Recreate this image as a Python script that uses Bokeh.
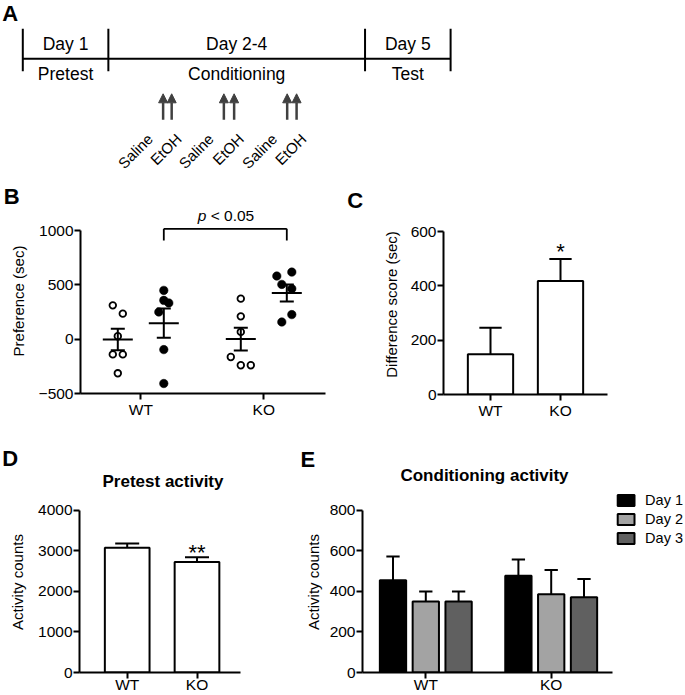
import math
import numpy as np
from bokeh.plotting import figure
from bokeh.models import (Range1d, FixedTicker, Label, Arrow, NormalHead,
                          ColumnDataSource, Legend, LegendItem)
from bokeh.layouts import column, row
from bokeh.embed import file_html
from bokeh.resources import INLINE
from bokeh.core.properties import value

FONT = "Liberation Sans"
INK = "#000000"
ARROW_C = "#404040"

# ---------------- data ----------------
# A: protocol timeline (in days)
phase_days = ["Day 1", "Day 2-4", "Day 5"]
phase_names = ["Pretest", "Conditioning", "Test"]
phase_bounds = [0, 1, 4, 5]
saline_inj = [1.64, 2.35, 3.09]
etoh_inj = [1.74, 2.47, 3.20]

# B: place preference of individual animals (sec)
genotypes = ["WT", "KO"]
wt_saline = [311, 235, 27, -140, -140, -314]
wt_etoh = [449, 357, 333, 250, -96, -408]
ko_saline = [373, 210, 67, -164, -240, -240]
ko_etoh = [581, 617, 504, 465, 226, 158]
# horizontal scatter slot of each dot
wt_saline_slot = [-1, 1, 0, -1, 1, 0]
wt_etoh_slot = [0, 0, 1, -1, 0, 0]
ko_saline_slot = [0, 0, 0, -2, 0, 2]
ko_etoh_slot = [-2, 1, -1, 1, 1, -1]
b_ticks = [-500, 0, 500, 1000]
p_value_text = "< 0.05"

# C: difference score (sec)
diff_mean = [148, 418]
diff_sem = [98, 81]
c_ticks = [0, 200, 400, 600]

# D: pretest activity counts
pretest_mean = [3075, 2725]
pretest_sem = [105, 115]
d_ticks = [0, 1000, 2000, 3000, 4000]

# E: conditioning activity counts
days = ["Day 1", "Day 2", "Day 3"]
wt_cond_mean = [455, 350, 350]
wt_cond_sem = [117, 50, 50]
ko_cond_mean = [477, 386, 371]
ko_cond_sem = [80, 120, 90]
day_colors = ["#000000", "#a3a3a3", "#606060"]
e_ticks = [0, 200, 400, 600, 800]


# ---------------- helpers ----------------
class Panel:
    """Figure whose frame is placed at given page pixels; x_ref/y_ref calibrate scales."""
    def __init__(self, left, top, width, height, frame_left, frame_top, frame_bottom,
                 x_ref=None, y_ref=None, axes=True, frame_right=None):
        if x_ref is None:
            x_ref = ((0, 0), (1, 1))
        if y_ref is None:
            y_ref = ((0, frame_bottom), (1, frame_bottom - 1))
        if frame_right is None:
            frame_right = left + width
        (xv1, xp1), (xv2, xp2) = x_ref
        (yv1, yp1), (yv2, yp2) = y_ref
        self.kx = (xv2 - xv1) / (xp2 - xp1)
        self.ky = (yv2 - yv1) / (yp2 - yp1)
        self.xv1, self.xp1, self.yv1, self.yp1 = xv1, xp1, yv1, yp1
        kw = {}
        if not axes:
            kw = dict(x_axis_location=None, y_axis_location=None)
        self.p = figure(width=width, height=height,
                        x_range=Range1d(self.dx(frame_left), self.dx(frame_right)),
                        y_range=Range1d(self.dy(frame_bottom), self.dy(frame_top)),
                        min_border_left=frame_left - left,
                        min_border_right=left + width - frame_right,
                        min_border_top=frame_top - top,
                        min_border_bottom=top + height - frame_bottom,
                        toolbar_location=None, output_backend="svg", **kw)
        p = self.p
        try:
            p.frame_align = False
        except Exception:
            pass
        p.outline_line_color = None
        p.background_fill_color = "white"
        p.border_fill_color = "white"
        p.xgrid.visible = False
        p.ygrid.visible = False

    def dx(self, px):
        return self.xv1 + (px - self.xp1) * self.kx

    def dy(self, py):
        return self.yv1 + (py - self.yp1) * self.ky

    def py(self, v):
        return self.yp1 + (v - self.yv1) / self.ky

    def w(self, px):  # width in x data units
        return px * self.kx

    def label(self, px, py, text, size, style="normal", align="left"):
        # py: vertical centre of the capital letters
        self.p.add_layout(Label(x=self.dx(px), y=self.dy(py), text=text,
                                text_font=FONT, text_font_size=size,
                                text_font_style=style, text_align=align,
                                text_baseline="middle", text_color=INK))


def style_axes(P, xlabels, yticks, ylabel, xbound_px, label_standoff, x_label_standoff=1):
    p = P.p
    xt = list(range(1, len(xlabels) + 1))
    for ax in (p.xaxis[0], p.yaxis[0]):
        ax.axis_line_color = INK
        ax.axis_line_width = 2
        ax.major_tick_line_color = INK
        ax.major_tick_line_width = 2
        ax.major_tick_out = 6
        ax.major_tick_in = 0
        ax.minor_tick_out = 0
        ax.minor_tick_in = 0
        ax.major_label_text_font = FONT
        ax.major_label_text_font_size = "15.5px"
        ax.major_label_text_color = INK
        ax.axis_label_text_font = FONT
        ax.axis_label_text_font_size = "15px"
        ax.axis_label_text_font_style = "normal"
        ax.axis_label_text_color = INK
    p.xaxis.ticker = FixedTicker(ticks=xt)
    p.xaxis.major_label_overrides = {t: l for t, l in zip(xt, xlabels)}
    p.xaxis.bounds = (p.x_range.start, P.dx(xbound_px))
    p.xaxis.major_label_standoff = x_label_standoff
    p.yaxis.ticker = FixedTicker(ticks=yticks)
    p.yaxis.bounds = (yticks[0], yticks[-1])
    p.yaxis.axis_label = ylabel
    p.yaxis.major_label_standoff = 1
    p.yaxis.axis_label_standoff = label_standoff


def bar_panel(P, xs, means, sems, bar_w_px, cap_w_px, fill="white"):
    p = P.p
    r = p.vbar(x=xs, top=means, bottom=0, width=P.w(bar_w_px), fill_color=fill,
               line_color=INK, line_width=2)
    tops = [m + s for m, s in zip(means, sems)]
    p.segment(x0=xs, y0=means, x1=xs, y1=tops, line_color=INK, line_width=2)
    cw = P.w(cap_w_px) / 2
    p.segment(x0=[x - cw for x in xs], y0=tops, x1=[x + cw for x in xs], y1=tops,
              line_color=INK, line_width=2)
    return r


def star(P, x, top_value, text, lift_px):
    P.p.add_layout(Label(x=x, y=P.dy(P.py(top_value) - lift_px), text=text,
                         text_font=FONT, text_font_size="22px", text_align="center",
                         text_baseline="middle", text_color=INK))


# ---------------- panel A ----------------
A = Panel(0, 0, 685, 183, 0, 0, 183, x_ref=((0, 22.3), (5, 450.1)),
          y_ref=((0, 58.3), (-100, 158.3)), axes=False)
pa = A.p
pa.segment(x0=[phase_bounds[0]], y0=[0], x1=[phase_bounds[-1]], y1=[0],
           line_color=INK, line_width=2)
pa.segment(x0=phase_bounds, y0=A.dy(70.7), x1=phase_bounds, y1=A.dy(28.3),
           line_color=INK, line_width=2)
mids = [(a + b) / 2 for a, b in zip(phase_bounds[:-1], phase_bounds[1:])]
pa.text(x=mids, y=A.dy(43.5), text=phase_days, text_font=value(FONT),
        text_font_size=value("17.5px"), text_align="center",
        text_baseline="middle", text_color=INK)
pa.text(x=mids, y=A.dy(73), text=phase_names, text_font=value(FONT),
        text_font_size=value("17.5px"), text_align="center",
        text_baseline="middle", text_color=INK)
arrow_src = ColumnDataSource(dict(x=saline_inj + etoh_inj))
pa.add_layout(Arrow(end=NormalHead(size=9, fill_color=ARROW_C, line_color=ARROW_C,
                                   line_width=1),
                    x_start="x", x_end="x", y_start=A.dy(119.3), y_end=A.dy(93.3),
                    line_color=ARROW_C, line_width=2.5, source=arrow_src))
pa.text(x=saline_inj, y=A.dy(135.8), text=["Saline"] * len(saline_inj),
        angle=math.pi / 4, x_offset=-13, text_font=value(FONT),
        text_font_size=value("15px"), text_align="right",
        text_baseline="middle", text_color=INK)
pa.text(x=etoh_inj, y=A.dy(135.8), text=["EtOH"] * len(etoh_inj),
        angle=math.pi / 4, x_offset=7, text_font=value(FONT),
        text_font_size=value("15px"), text_align="right",
        text_baseline="middle", text_color=INK)
A.label(1.7, 12.5, "A", "22px", "bold")

# ---------------- panel B (header strip with letter + plot) ----------------
HB = Panel(0, 183, 345, 25, 0, 183, 208, axes=False)
HB.label(3.3, 195.6, "B", "22px", "bold")

B = Panel(0, 208, 345, 217, 80, 208, 393, x_ref=((1, 140.3), (2, 263.3)),
          y_ref=((-500, 393), (1000, 230)))
pb = B.p
style_axes(B, genotypes, b_ticks, "Preference (sec)", 325, 9)
side = B.w(23)
step = B.w(5)
groups = [(1 - side, wt_saline, wt_saline_slot, False),
          (1 + side, wt_etoh, wt_etoh_slot, True),
          (2 - side, ko_saline, ko_saline_slot, False),
          (2 + side, ko_etoh, ko_etoh_slot, True)]
for gx, vals, slots, filled in groups:
    xs = [gx + s * step for s in slots]
    if filled:
        pb.scatter(xs, vals, marker="circle", size=8.5, fill_color=INK, line_color=INK,
                   line_width=0.5)
    else:
        pb.scatter(xs, vals, marker="circle", size=6.6, fill_color="white",
                   line_color=INK, line_width=1.8)
for gx, vals, slots, filled in groups:
    v = np.array(vals, dtype=float)
    m = float(v.mean())
    sem = float(v.std(ddof=1) / np.sqrt(len(v)))
    mw = B.w(30) / 2
    cw = B.w(14) / 2
    pb.segment(x0=[gx - mw], y0=[m], x1=[gx + mw], y1=[m], line_color=INK, line_width=2)
    pb.segment(x0=[gx], y0=[m - sem], x1=[gx], y1=[m + sem], line_color=INK, line_width=2)
    pb.segment(x0=[gx - cw, gx - cw], y0=[m - sem, m + sem], x1=[gx + cw, gx + cw],
               y1=[m - sem, m + sem], line_color=INK, line_width=2)
bx0, bx1 = 1 + side, 2 + side
by = B.dy(228.3)
byl = B.dy(240)
pb.segment(x0=[bx0, bx0, bx1], y0=[by, by, by], x1=[bx1, bx0, bx1], y1=[by, byl, byl],
           line_color=INK, line_width=1.8)
bc = (bx0 + bx1) / 2
pb.add_layout(Label(x=bc, y=B.dy(214.8), text="p", x_offset=-27.5, text_font=FONT,
                    text_font_size="15.5px", text_font_style="italic",
                    text_align="left", text_baseline="middle", text_color=INK))
pb.add_layout(Label(x=bc, y=B.dy(214.8), text=p_value_text, x_offset=-14.6,
                    text_font=FONT, text_font_size="15.5px", text_align="left",
                    text_baseline="middle", text_color=INK))

# ---------------- panel C (header strip with letter + plot) ----------------
HC = Panel(345, 183, 340, 31, 345, 183, 214, axes=False)
HC.label(346.7, 200.3, "C", "22px", "bold")

C = Panel(345, 214, 340, 211, 443, 214, 394, x_ref=((1, 490), (2, 560)),
          y_ref=((0, 394), (600, 231)))
pc = C.p
style_axes(C, genotypes, c_ticks, "Difference score (sec)", 607, 8)
bar_panel(C, [1, 2], diff_mean, diff_sem, 45.3, 22.3)
star(C, 2, diff_mean[1] + diff_sem[1], "*", 7.4)

# ---------------- header of row 3 (letters and titles) ----------------
H = Panel(0, 425, 685, 66, 0, 425, 491, axes=False)
ph = H.p
H.label(1.7, 458.4, "D", "22px", "bold")
H.label(162.5, 481.2, "Pretest activity", "17px", "bold", align="center")
H.label(300, 459.2, "E", "22px", "bold")
H.label(484, 475.4, "Conditioning activity", "17px", "bold", align="center")

# ---------------- panel D ----------------
D = Panel(0, 491, 262, 204, 79, 491, 674, x_ref=((1, 126.7), (2, 196.5)),
          y_ref=((0, 674), (4000, 510)))
pd_ = D.p
style_axes(D, genotypes, d_ticks, "Activity counts", 240, 9, x_label_standoff=-3)
bar_panel(D, [1, 2], pretest_mean, pretest_sem, 44.7, 24)
star(D, 2, pretest_mean[1] + pretest_sem[1], "**", 4.8)

# ---------------- panel E ----------------
E = Panel(262, 491, 423, 204, 362, 491, 674, x_ref=((1, 425.3), (2, 550.7)),
          y_ref=((0, 674), (800, 510)), frame_right=683)
pe = E.p
style_axes(E, genotypes, e_ticks, "Activity counts", 611.7, 5, x_label_standoff=-3)
pitch = E.w(32.8)
items = []
for j, d in enumerate(days):
    off = (j - 1) * pitch
    r = bar_panel(E, [1 + off, 2 + off], [wt_cond_mean[j], ko_cond_mean[j]],
                  [wt_cond_sem[j], ko_cond_sem[j]], 26.3, 13.3, fill=day_colors[j])
    items.append(LegendItem(label=d, renderers=[r]))
legend = Legend(items=items, location="top_right", padding=0, margin=0, spacing=2,
                glyph_width=21, glyph_height=14, label_standoff=9, label_height=17,
                label_text_font=FONT, label_text_font_size="14.5px",
                label_text_color=INK, border_line_color=None,
                background_fill_alpha=0)
pe.add_layout(legend)

layout = column(pa, row(column(HB.p, pb), column(HC.p, pc)), ph, row(pd_, pe))
open("out.html", "w").write(file_html(layout, INLINE))
